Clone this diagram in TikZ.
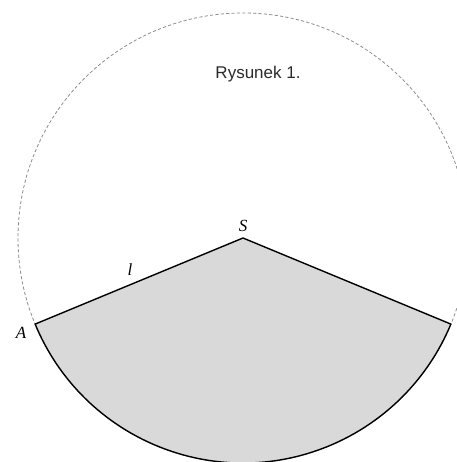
\documentclass[tikz,border=0pt]{standalone}
\usepackage{fontspec}
\setmainfont{Liberation Serif}
\newfontfamily\capfont{Liberation Sans}
\definecolor{sectorgray}{HTML}{D9D9D9}
\definecolor{dashgray}{HTML}{8C8C8C}
\definecolor{captiongray}{HTML}{2A2A2A}
\tikzset{
  ptlabel/.style={font=\fontsize{17}{20}\selectfont\itshape, inner sep=0pt},
  sectorline/.style={draw=black, fill=sectorgray, line width=1.4pt, line join=round},
  guide/.style={draw=dashgray, line width=0.8pt, dash pattern=on 3.2pt off 2.2pt}
}
\begin{document}
\begin{tikzpicture}[x=1pt,y=1pt]
\useasboundingbox (0,0) rectangle (456,462);
\coordinate (S) at (243,224);
\coordinate (A) at ([shift={(S)}]202.5:225);
\coordinate (B) at ([shift={(S)}]337.5:225);
\draw[guide] (S) circle[radius=225];
\path[sectorline] (S) -- (A) arc[start angle=202.5, end angle=337.5, radius=225] -- cycle;
\node[ptlabel] (lS) at (243,236) {S};
\node[ptlabel] (lA) at (21,129) {A};
\node[ptlabel] (ll) at (130,192) {l};
\node[font=\capfont\fontsize{17}{20}\selectfont, text=captiongray, inner sep=0pt] (cap) at (258,388) {Rysunek 1.};
\end{tikzpicture}
\end{document}
